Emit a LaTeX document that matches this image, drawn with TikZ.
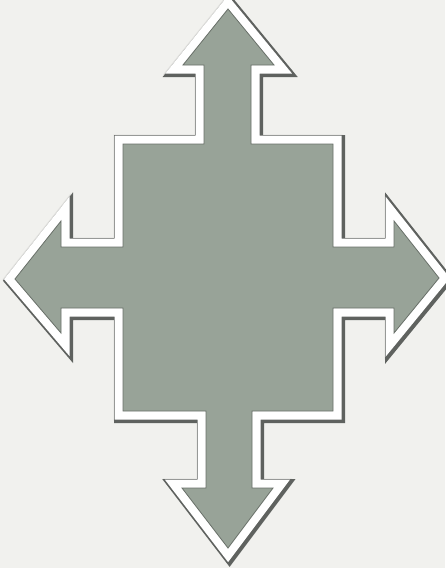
\documentclass[tikz,border=0pt]{standalone}
\begin{document}
\begin{tikzpicture}[x=1pt,y=-1pt,
  arrowfill/.style={fill=sage,draw=sagedark,line width=0.8pt,line join=miter},
  halo/.style={draw=white,fill=white,line width=17pt,line join=miter},
  haloshadow/.style={draw=shadowgray,fill=shadowgray,line width=21pt,line join=miter},
  halolight/.style={draw=lightgray2,fill=lightgray2,line width=19pt,line join=miter}]
\definecolor{sage}{RGB}{152,163,152}
\definecolor{sagedark}{RGB}{105,112,105}
\definecolor{shadowgray}{RGB}{95,98,95}
\definecolor{lightgray2}{RGB}{222,222,219}
\definecolor{paper}{RGB}{241,241,238}
\fill[paper] (0,0) rectangle (445,568);
\useasboundingbox (0,0) rectangle (445,568);
\def\arrowpath{(228,9) -- (274,65) -- (251,65) -- (251,144) -- (333,144) -- (333,247) -- (394,247) -- (394,221) -- (439,278) -- (394,333) -- (394,308) -- (333,308) -- (333,411) -- (252,411) -- (252,488) -- (273,488) -- (228,548) -- (182,488) -- (206,488) -- (206,411) -- (123,411) -- (123,308) -- (61,308) -- (61,333) -- (15,279) -- (61,221) -- (61,247) -- (123,247) -- (123,144) -- (204,144) -- (204,65) -- (183,65) -- cycle}
\path[halolight] \arrowpath;
\begin{scope}[shift={(1.5,1.5)}]
\path[haloshadow] \arrowpath;
\end{scope}
\path[halo] \arrowpath;
\path[arrowfill] \arrowpath;
\end{tikzpicture}
\end{document}
